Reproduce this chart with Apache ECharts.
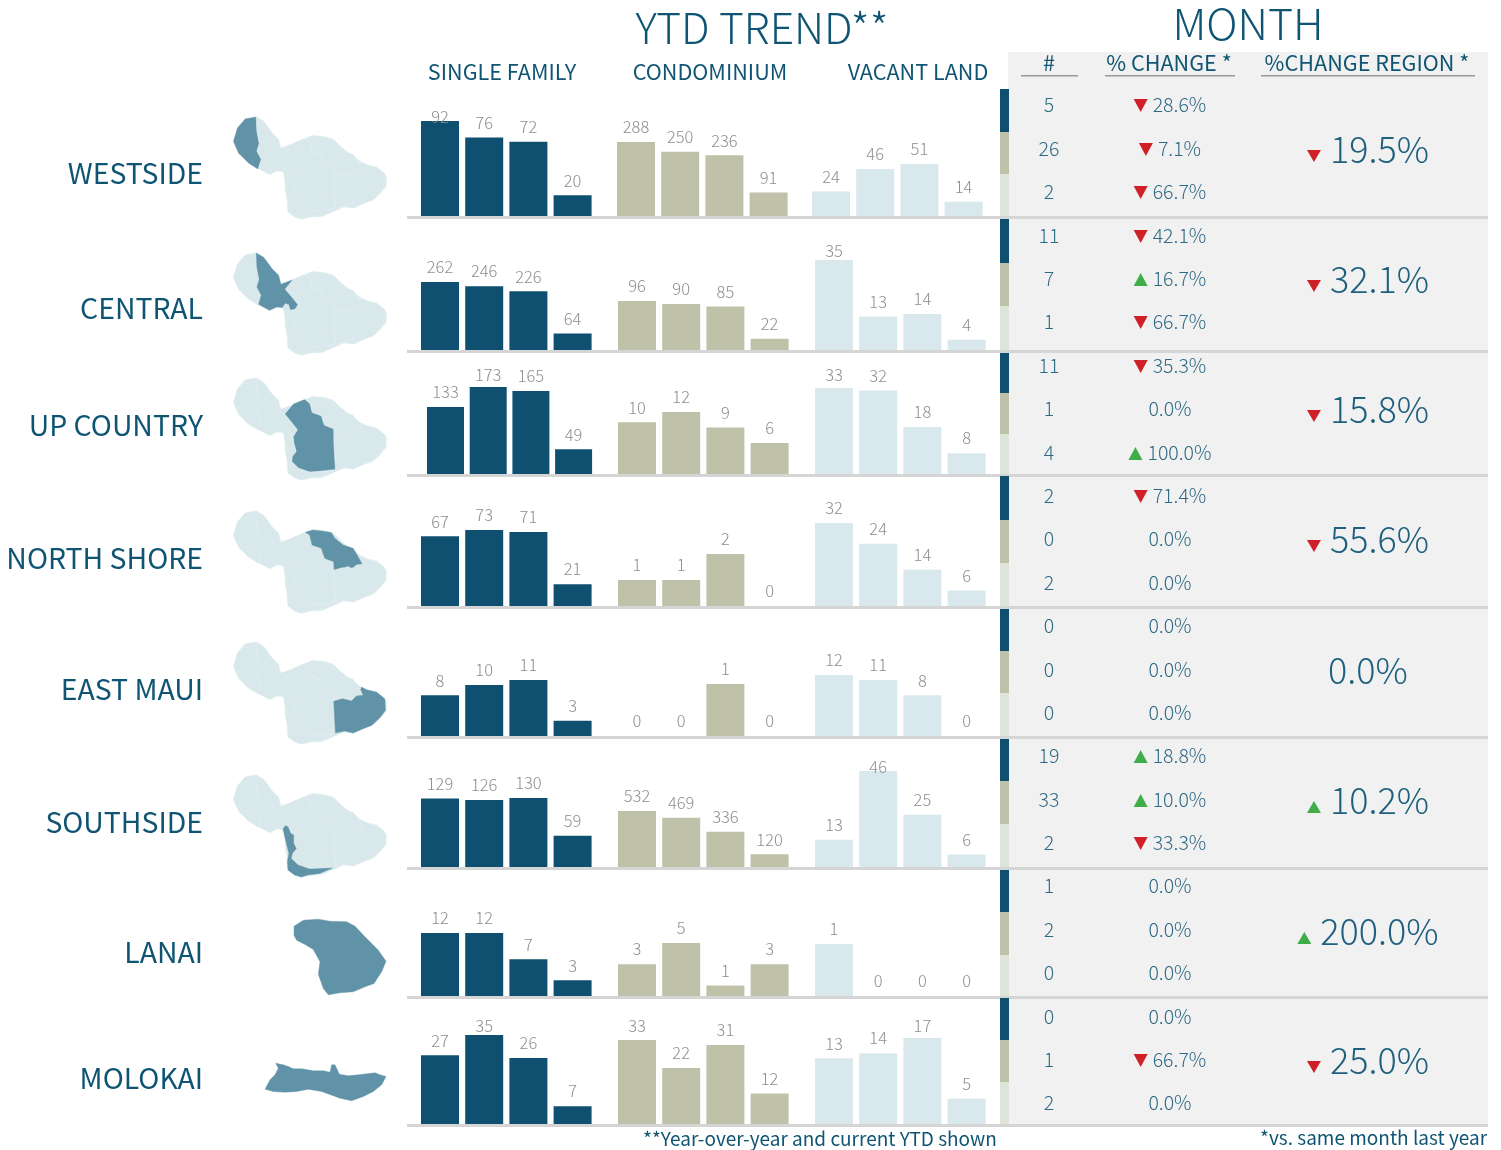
<!DOCTYPE html>
<html>
<head>
<meta charset="utf-8">
<title>Maui market trend</title>
<style>
  html, body { margin: 0; padding: 0; background: #fff; }
  #chart { width: 1501px; height: 1150px; }
</style>
<script src="https://cdn.jsdelivr.net/npm/echarts@6/dist/echarts.min.js"></script>
</head>
<body>
<div id="chart"></div>
<script>
// data
const regionNames = ['WESTSIDE', 'CENTRAL', 'UP COUNTRY', 'NORTH SHORE', 'EAST MAUI', 'SOUTHSIDE', 'LANAI', 'MOLOKAI'];
const propertyTypes = ['SINGLE FAMILY', 'CONDOMINIUM', 'VACANT LAND'];
const periods = ['a', 'b', 'c', 'd'];

const singleFamily = [
  [92, 76, 72, 20], [262, 246, 226, 64], [133, 173, 165, 49], [67, 73, 71, 21],
  [8, 10, 11, 3], [129, 126, 130, 59], [12, 12, 7, 3], [27, 35, 26, 7]
];
const condominium = [
  [288, 250, 236, 91], [96, 90, 85, 22], [10, 12, 9, 6], [1, 1, 2, 0],
  [0, 0, 1, 0], [532, 469, 336, 120], [3, 5, 1, 3], [33, 22, 31, 12]
];
const vacantLand = [
  [24, 46, 51, 14], [35, 13, 14, 4], [33, 32, 18, 8], [32, 24, 14, 6],
  [12, 11, 8, 0], [13, 46, 25, 6], [1, 0, 0, 0], [13, 14, 17, 5]
];
const monthCounts = [
  [5, 26, 2], [11, 7, 1], [11, 1, 4], [2, 0, 2],
  [0, 0, 0], [19, 33, 2], [1, 2, 0], [0, 1, 2]
];
const monthChanges = [
  [-28.6, -7.1, -66.7], [-42.1, 16.7, -66.7], [-35.3, 0, 100], [-71.4, 0, 0],
  [0, 0, 0], [18.8, 10.0, -33.3], [0, 0, 0], [0, -66.7, 0]
];
const regionChanges = [-19.5, -32.1, -15.8, -55.6, 0, 10.2, 200, -25];

// traced island outlines
const mauiIsland = [[700,425],[712,385],[735,358],[768,352],[790,365],[805,385],[820,415],[843,445],[885,430],[905,423],[935,408],[970,410],[1000,420],[1020,440],[1045,460],[1065,472],[1080,487],[1110,500],[1140,512],[1158,530],[1157,560],[1140,580],[1120,600],[1090,610],[1060,625],[1030,622],[1000,635],[965,650],[930,652],[905,658],[885,652],[868,640],[862,610],[855,570],[853,520],[835,510],[810,525],[780,510],[745,490],[715,460],[702,430]];
const mauiWestside = [[768,352],[770,400],[777,432],[770,455],[783,478],[773,508],[745,490],[715,460],[702,430],[700,425],[712,385],[735,358]];
const mauiCentral = [[768,352],[790,365],[805,385],[815,399],[835,419],[842,446],[880,432],[855,462],[875,484],[897,504],[885,519],[870,522],[865,504],[850,516],[830,514],[807,524],[775,506],[783,479],[770,454],[777,432],[770,394]];
const mauiUpCountry = [[855,460],[880,430],[913,417],[930,432],[936,457],[963,467],[970,492],[1000,505],[1000,557],[1005,625],[928,634],[895,622],[876,602],[876,585],[888,567],[878,532],[893,507],[873,482]];
const mauiNorthShore = [[915,416],[938,409],[963,412],[993,417],[1003,434],[1028,454],[1058,464],[1070,484],[1086,512],[1073,516],[1053,522],[1043,517],[1023,524],[1001,529],[1000,504],[973,494],[963,464],[935,454],[928,424]];
const mauiEast = [[1083,487],[1098,495],[1128,502],[1153,522],[1155,557],[1138,579],[1113,602],[1088,612],[1058,625],[1033,619],[1005,625],[1000,530],[1026,522],[1053,529],[1068,514],[1088,512],[1081,495]];
const mauiSouthside = [[855,504],[863,507],[871,527],[880,532],[880,557],[888,572],[876,587],[873,602],[893,622],[928,634],[996,631],[958,647],[923,652],[903,658],[883,652],[863,637],[861,612],[866,587],[858,557],[848,515]];
const lanaiOutline = [[132,78],[160,60],[205,57],[240,63],[290,65],[315,78],[345,110],[385,150],[408,183],[395,215],[372,250],[345,260],[310,275],[270,278],[235,284],[220,265],[205,222],[210,185],[190,148],[165,133],[140,120],[132,105]];
const molokaiOutline = [[45,568],[60,540],[75,525],[85,505],[77,490],[100,495],[115,500],[130,507],[155,507],[190,513],[220,513],[240,517],[245,495],[255,495],[262,510],[268,523],[295,528],[340,523],[375,519],[390,525],[408,530],[395,555],[370,575],[340,590],[305,603],[270,595],[215,575],[175,568],[140,575],[105,577],[70,575]];

// layout
const FONT = '"Noto Sans CJK SC", "Source Sans Pro", "Noto Sans", sans-serif';
const DARK = '#0f5070', OLIVE = '#bfc2a8', PALE = '#d9e8ec', MINT = '#dde5da';
const INK = '#0f5573', CELL = '#2f6a85', BIG = '#1f607e', GREY = '#8e8e8e', RULE = '#d5d5d5';
const MAP_DARK = '#6093a8', MAP_LIGHT = '#d9e8eb';
const RED = '#cf2027', GREEN = '#3fae49';

const baselines = [216, 350, 474, 606, 736, 867, 996, 1124];
const rowLabelY = [173, 308, 425, 558, 689, 822, 952, 1078];
const tallestTop = [
  [121, 142, 164], [282, 301, 260], [387, 412, 388], [530, 554, 523],
  [680, 684, 675], [798, 811, 771], [933, 943, 944], [1035, 1040, 1038]
];
const labelCeil = [117, 251, 375, 507, 652, 767, 917, 1026];
const firstBar = [
  [421, 617, 812], [421, 618, 815], [427, 618, 815], [421, 618, 815],
  [421, 618, 815], [421, 618, 815], [421, 618, 815], [421, 618, 815]
];
const stripEdges = [
  [89, 132, 174, 216], [219, 263, 306, 350], [353, 393, 434, 474], [476, 520, 563, 606],
  [609, 651, 693, 736], [739, 781, 824, 867], [870, 912, 955, 996], [998, 1040, 1082, 1124]
];
const cellY = [
  [105, 149, 192], [236, 279, 322], [366, 409, 453], [496, 539, 583],
  [626, 670, 713], [756, 800, 843], [886, 930, 973], [1017, 1060, 1103]
];
const regionY = [149, 279, 409, 539, 670, 800, 931, 1060];
const mapPlace = [
  { map: 'maui', hi: 'westside', c: [310, 168], size: 153 },
  { map: 'maui', hi: 'central', c: [310, 304], size: 153 },
  { map: 'maui', hi: 'upcountry', c: [310, 429], size: 153 },
  { map: 'maui', hi: 'northshore', c: [310, 562], size: 153 },
  { map: 'maui', hi: 'east', c: [310, 693], size: 153 },
  { map: 'maui', hi: 'southside', c: [310, 826], size: 153 },
  { map: 'lanai', hi: 'lanai', c: [340, 957], size: 92 },
  { map: 'molokai', hi: 'molokai', c: [325.5, 1082], size: 121 }
];

function feature(name, ring) {
  const flipped = ring.concat([ring[0]]).map(p => [p[0], -p[1]]);
  return { type: 'Feature', properties: { name: name }, geometry: { type: 'Polygon', coordinates: [flipped] } };
}
function geoJson(parts) {
  return { type: 'FeatureCollection', features: parts.map(p => feature(p[0], p[1])) };
}
echarts.registerMap('maui', geoJson([
  ['island', mauiIsland], ['westside', mauiWestside], ['central', mauiCentral],
  ['upcountry', mauiUpCountry], ['northshore', mauiNorthShore], ['east', mauiEast], ['southside', mauiSouthside]
]));
echarts.registerMap('lanai', geoJson([['lanai', lanaiOutline]]));
echarts.registerMap('molokai', geoJson([['molokai', molokaiOutline]]));

const measureCtx = document.createElement('canvas').getContext('2d');
function textWidth(str, size, weight) {
  measureCtx.font = (weight || 400) + ' ' + size + 'px ' + FONT;
  return measureCtx.measureText(str).width;
}
function text(str, x, y, size, fill, align, weight) {
  return {
    type: 'text', x: x, y: y, silent: true,
    style: {
      text: str, fill: fill, fontSize: size, fontFamily: FONT, fontWeight: weight || 400,
      textAlign: align || 'center', textVerticalAlign: 'middle'
    }
  };
}
function rect(x, y, w, h, fill) {
  return { type: 'rect', silent: true, shape: { x: x, y: y, width: w, height: h }, style: { fill: fill } };
}
function triangle(x, y, w, h, up) {
  const pts = up
    ? [[x, y + h / 2], [x + w, y + h / 2], [x + w / 2, y - h / 2]]
    : [[x, y - h / 2], [x + w, y - h / 2], [x + w / 2, y + h / 2]];
  return { type: 'polygon', silent: true, shape: { points: pts }, style: { fill: up ? GREEN : RED } };
}
// triangle + percent, centred as one block
function changeCell(value, cx, y, size, color, triW, triH, gap, triDy, out) {
  const str = Math.abs(value).toFixed(1) + '%';
  if (value === 0) { out.push(text(str, cx, y, size, color, 'center', 300)); return; }
  const w = textWidth(str, size, 300);
  const left = cx - (triW + gap + w) / 2;
  out.push(triangle(left, y + triDy, triW, triH, value > 0));
  out.push(text(str, left + triW + gap, y, size, color, 'left', 300));
}

const graphics = [];
graphics.push(rect(1008, 52, 480, 1072, '#f1f1f1'));
graphics.push(text('YTD TREND**', 762, 28, 42.5, INK, 'center', 300));
graphics.push(text('MONTH', 1248, 24, 43, INK, 'center', 300));
[502, 710, 918].forEach((x, i) => graphics.push(text(propertyTypes[i], x, 72, 21.6, INK)));
graphics.push(text('#', 1049, 63, 21.6, INK));
graphics.push(text('% CHANGE *', 1169, 63, 21.6, INK));
graphics.push(text('%CHANGE REGION *', 1367, 63, 21.6, INK));
graphics.push(rect(1021, 75, 57, 1.5, '#9a9a9a'));
graphics.push(rect(1105, 75, 130, 1.5, '#9a9a9a'));
graphics.push(rect(1261, 75, 214, 1.5, '#9a9a9a'));
graphics.push(text('**Year-over-year and current YTD shown', 820, 1139, 19, INK));
graphics.push(text('*vs. same month last year', 1487, 1138, 19, INK, 'right'));

regionNames.forEach((name, r) => {
  graphics.push(text(name, 203, rowLabelY[r], 28.4, INK, 'right'));
  [DARK, OLIVE, MINT].forEach((c, k) => {
    graphics.push(rect(1000, stripEdges[r][k], 9, stripEdges[r][k + 1] - stripEdges[r][k], c));
    graphics.push(text(String(monthCounts[r][k]), 1049, cellY[r][k], 19.5, CELL, 'center', 300));
    changeCell(monthChanges[r][k], 1170, cellY[r][k], 19.5, CELL, 14, 13, 5, 0.5, graphics);
  });
  changeCell(regionChanges[r], 1368, regionY[r], 36, BIG, 14, 12, 9, 7, graphics);
  graphics.push(rect(407, baselines[r], 1081, 3, RULE));
});

// one small grid per region and property type
const grids = [], xAxes = [], yAxes = [], series = [];
const typeValues = [singleFamily, condominium, vacantLand];
const typeColors = [DARK, OLIVE, PALE];
regionNames.forEach((name, r) => {
  typeValues.forEach((values, t) => {
    const narrow = r === 2 && t === 0;
    const step = narrow ? 42.7 : 44.2;
    const barW = narrow ? 37 : 38;
    const row = values[r];
    const max = Math.max.apply(null, row);
    const top = tallestTop[r][t];
    const height = baselines[r] - top;
    const idx = grids.length;
    grids.push({
      left: firstBar[r][t] - (step - barW) / 2, width: step * 4,
      top: top, height: height
    });
    xAxes.push({ type: 'category', gridIndex: idx, data: periods, show: false });
    yAxes.push({ type: 'value', gridIndex: idx, min: 0, max: max, show: false });
    series.push({
      type: 'bar', name: name + ' ' + propertyTypes[t], xAxisIndex: idx, yAxisIndex: idx,
      barWidth: barW, silent: true, animation: false,
      itemStyle: { color: typeColors[t] },
      data: row.map(v => {
        const labelY = baselines[r] - v / max * height - 15;
        const push = Math.max(0, labelCeil[r] - labelY);
        return { value: v, label: { offset: [0, push] } };
      }),
      label: {
        show: true, position: 'top', distance: 7, color: GREY,
        fontSize: 16.5, fontFamily: FONT, fontWeight: 300, lineHeight: 16
      }
    });
  });
});

const geos = mapPlace.map(m => ({
  map: m.map, silent: true, roam: false, aspectScale: 1,
  layoutCenter: m.c, layoutSize: m.size,
  label: { show: false },
  itemStyle: { areaColor: MAP_LIGHT, borderColor: '#e2eef0', borderWidth: 0.5 },
  regions: [{ name: m.hi, itemStyle: { areaColor: MAP_DARK, borderColor: MAP_DARK, borderWidth: 0.4 } }]
}));

const chart = echarts.init(document.getElementById('chart'), null, { renderer: 'canvas' });
chart.setOption({
  animation: false,
  backgroundColor: '#fff',
  grid: grids,
  xAxis: xAxes,
  yAxis: yAxes,
  geo: geos,
  series: series,
  graphic: { elements: graphics }
});
</script>
</body>
</html>
